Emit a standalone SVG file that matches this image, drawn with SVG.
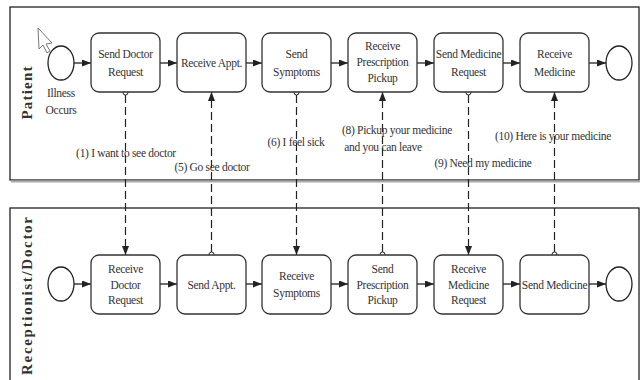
<svg xmlns="http://www.w3.org/2000/svg" width="641" height="380" viewBox="0 0 641 380">
<defs>
<marker id="arr" markerWidth="9" markerHeight="7" refX="9" refY="3.5" orient="auto" markerUnits="userSpaceOnUse">
<path d="M0,0 L9,3.5 L0,7 Z" fill="#222"/>
</marker>
<style>
.pool{fill:#fff;stroke:#222;stroke-width:1.3}
.task{fill:#fff;stroke:#333;stroke-width:1.3}
.ev{fill:#fff;stroke:#222;stroke-width:1.3}
.t{font-family:"Liberation Serif","Times New Roman",serif;font-size:11.5px;letter-spacing:-0.3px;fill:#333;text-anchor:middle}
.lane{font-family:"Liberation Serif","Times New Roman",serif;font-size:15px;font-weight:bold;fill:#333;text-anchor:middle}
.seq{stroke:#222;stroke-width:1.3;fill:none}
.msg{stroke:#222;stroke-width:1.2;fill:none;stroke-dasharray:8 4}
.src{fill:#fff;stroke:#222;stroke-width:1}
</style>
</defs>
<rect width="641" height="380" fill="#fff"/>

<g id="pool-patient">
<rect class="pool" x="10" y="7" width="629" height="173"/>
<line x1="11" y1="181.5" x2="640" y2="181.5" stroke="#aaa" stroke-width="2"/>
<text class="lane" transform="translate(32,93) rotate(-90)" textLength="53" lengthAdjust="spacing">Patient</text>
</g>
<g id="pool-receptionist">
<rect class="pool" x="10" y="208" width="629" height="200"/>
<text class="lane" transform="translate(32,296) rotate(-90)" textLength="158" lengthAdjust="spacing">Receptionist/Doctor</text>
</g>

<g id="cursor">
<polygon points="38,28 39,49 43,45 47,53 50,51 46,44 52,43" fill="#fff" stroke="#777" stroke-width="1"/>
</g>

<g id="connectors">
<line class="seq" x1="74" y1="63" x2="91" y2="63" marker-end="url(#arr)"/>
<line class="seq" x1="160" y1="63" x2="177" y2="63" marker-end="url(#arr)"/>
<line class="seq" x1="246" y1="63" x2="262" y2="63" marker-end="url(#arr)"/>
<line class="seq" x1="331" y1="63" x2="348" y2="63" marker-end="url(#arr)"/>
<line class="seq" x1="417" y1="63" x2="434" y2="63" marker-end="url(#arr)"/>
<line class="seq" x1="503" y1="63" x2="520" y2="63" marker-end="url(#arr)"/>
<line class="seq" x1="589" y1="63" x2="606" y2="63" marker-end="url(#arr)"/>

<line class="seq" x1="74" y1="284" x2="91" y2="284" marker-end="url(#arr)"/>
<line class="seq" x1="160" y1="284" x2="177" y2="284" marker-end="url(#arr)"/>
<line class="seq" x1="246" y1="284" x2="262" y2="284" marker-end="url(#arr)"/>
<line class="seq" x1="331" y1="284" x2="348" y2="284" marker-end="url(#arr)"/>
<line class="seq" x1="417" y1="284" x2="434" y2="284" marker-end="url(#arr)"/>
<line class="seq" x1="503" y1="284" x2="520" y2="284" marker-end="url(#arr)"/>
<line class="seq" x1="589" y1="284" x2="606" y2="284" marker-end="url(#arr)"/>

<line class="msg" x1="125.5" y1="95" x2="125.5" y2="255" marker-end="url(#arr)"/>
<circle class="src" cx="125.5" cy="92.5" r="2.5"/>
<line class="msg" x1="211.5" y1="252" x2="211.5" y2="92" marker-end="url(#arr)"/>
<circle class="src" cx="211.5" cy="254.5" r="2.5"/>
<line class="msg" x1="296.5" y1="95" x2="296.5" y2="255" marker-end="url(#arr)"/>
<circle class="src" cx="296.5" cy="92.5" r="2.5"/>
<line class="msg" x1="382.5" y1="252" x2="382.5" y2="92" marker-end="url(#arr)"/>
<circle class="src" cx="382.5" cy="254.5" r="2.5"/>
<line class="msg" x1="468.5" y1="95" x2="468.5" y2="255" marker-end="url(#arr)"/>
<circle class="src" cx="468.5" cy="92.5" r="2.5"/>
<line class="msg" x1="554.5" y1="252" x2="554.5" y2="92" marker-end="url(#arr)"/>
<circle class="src" cx="554.5" cy="254.5" r="2.5"/>

<text class="t" x="126" y="157">(1) I want to see doctor</text>
<text class="t" x="212" y="171">(5) Go see doctor</text>
<text class="t" x="296" y="146">(6) I feel sick</text>
<text class="t" x="397" y="134">(8) Pickup your medicine</text>
<text class="t" x="383" y="151">and you can leave</text>
<text class="t" x="483" y="167">(9) Need my medicine</text>
<text class="t" x="553" y="140">(10) Here is your medicine</text>
</g>

<g id="start-patient">
<ellipse class="ev" cx="61" cy="63" rx="13" ry="17"/>
<text class="t" x="61" y="97">Illness</text>
<text class="t" x="61" y="114">Occurs</text>
</g>
<g id="send-doctor-request">
<rect class="task" x="91" y="33" width="69" height="59" rx="8"/>
<text class="t" x="125.5" y="57.5">Send Doctor</text>
<text class="t" x="125.5" y="75.5">Request</text>
</g>
<g id="receive-appt">
<rect class="task" x="177" y="33" width="69" height="59" rx="8"/>
<text class="t" x="211.5" y="66.5">Receive Appt.</text>
</g>
<g id="send-symptoms">
<rect class="task" x="262" y="33" width="69" height="59" rx="8"/>
<text class="t" x="296.5" y="57.5">Send</text>
<text class="t" x="296.5" y="75.5">Symptoms</text>
</g>
<g id="receive-prescription-pickup">
<rect class="task" x="348" y="33" width="69" height="59" rx="8"/>
<text class="t" x="382.5" y="50">Receive</text>
<text class="t" x="382.5" y="66">Prescription</text>
<text class="t" x="382.5" y="82">Pickup</text>
</g>
<g id="send-medicine-request">
<rect class="task" x="434" y="33" width="69" height="59" rx="8"/>
<text class="t" x="468.5" y="57.5">Send Medicine</text>
<text class="t" x="468.5" y="75.5">Request</text>
</g>
<g id="receive-medicine">
<rect class="task" x="520" y="33" width="69" height="59" rx="8"/>
<text class="t" x="554.5" y="57.5">Receive</text>
<text class="t" x="554.5" y="75.5">Medicine</text>
</g>
<g id="end-patient">
<ellipse class="ev" cx="619" cy="63" rx="13" ry="17"/>
</g>

<g id="start-receptionist">
<ellipse class="ev" cx="61" cy="284" rx="13" ry="17"/>
</g>
<g id="receive-doctor-request">
<rect class="task" x="91" y="255" width="69" height="59" rx="8"/>
<text class="t" x="125.5" y="273">Receive</text>
<text class="t" x="125.5" y="288.5">Doctor</text>
<text class="t" x="125.5" y="304">Request</text>
</g>
<g id="send-appt">
<rect class="task" x="177" y="255" width="69" height="59" rx="8"/>
<text class="t" x="211.5" y="288.5">Send Appt.</text>
</g>
<g id="receive-symptoms">
<rect class="task" x="262" y="255" width="69" height="59" rx="8"/>
<text class="t" x="296.5" y="279.5">Receive</text>
<text class="t" x="296.5" y="296.5">Symptoms</text>
</g>
<g id="send-prescription-pickup">
<rect class="task" x="348" y="255" width="69" height="59" rx="8"/>
<text class="t" x="382.5" y="273">Send</text>
<text class="t" x="382.5" y="288.5">Prescription</text>
<text class="t" x="382.5" y="304">Pickup</text>
</g>
<g id="receive-medicine-request">
<rect class="task" x="434" y="255" width="69" height="59" rx="8"/>
<text class="t" x="468.5" y="273">Receive</text>
<text class="t" x="468.5" y="288.5">Medicine</text>
<text class="t" x="468.5" y="304">Request</text>
</g>
<g id="send-medicine">
<rect class="task" x="520" y="255" width="69" height="59" rx="8"/>
<text class="t" x="554.5" y="288.5">Send Medicine</text>
</g>
<g id="end-receptionist">
<ellipse class="ev" cx="619" cy="284" rx="13" ry="17"/>
</g>
</svg>
